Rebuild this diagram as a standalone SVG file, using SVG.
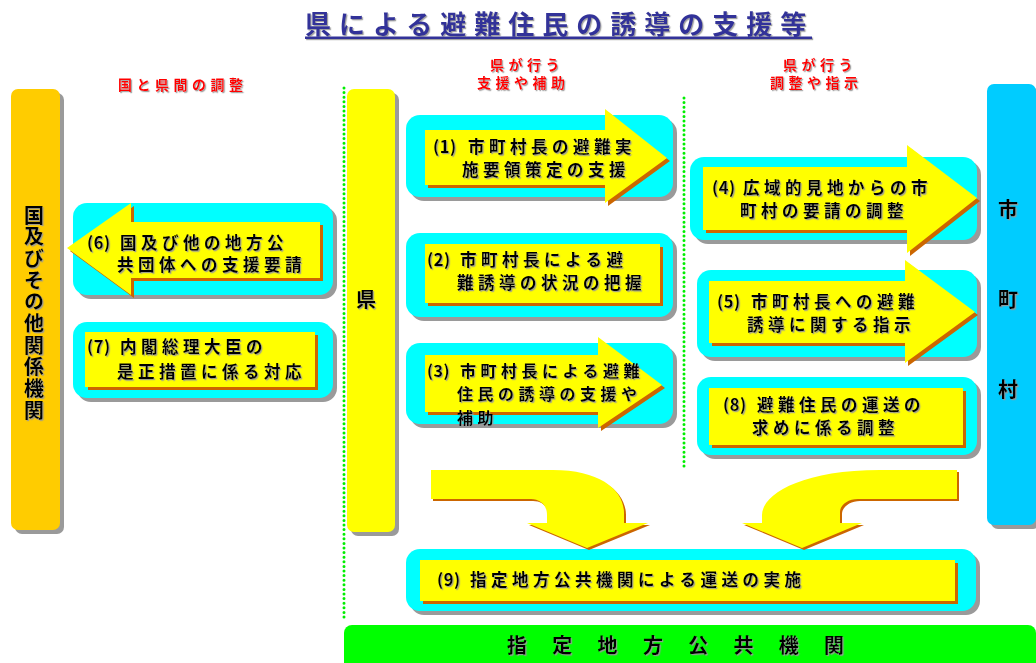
<svg xmlns="http://www.w3.org/2000/svg" width="1036" height="663" viewBox="0 0 1036 663">
<defs>
<filter id="ts" x="-5%" y="-20%" width="115%" height="150%"><feDropShadow dx="1.2" dy="1.2" stdDeviation="0.4" flood-color="#999999" flood-opacity="0.9"/></filter>
</defs>
<style>
.cy{fill:#00FFFF}
.sh{fill:#9a9a9a}
.yl{fill:#FFFF00}
.or{fill:#CC6600}
.t{font-family:"Noto Sans CJK JP","Noto Sans CJK SC",sans-serif;font-weight:700;font-size:16.5px;letter-spacing:4.5px;fill:#000000}
.n{letter-spacing:0.5px}
.red{fill:#FF0000;font-size:14px;letter-spacing:4.5px}
.big{font-size:20px;letter-spacing:0px;text-anchor:middle}
.title{fill:#333399;font-size:26px;letter-spacing:8px}
.dot{stroke:#00EE00;stroke-width:3;stroke-dasharray:0 4.6;stroke-linecap:round;fill:none}
</style>
<rect width="1036" height="663" fill="#FFFFFF"/>

<g id="title" filter="url(#ts)">
<text class="t title" x="305" y="34">県による避難住民の誘導の支援等</text>
<rect x="305" y="36.5" width="507" height="2.5" fill="#333399"/>
</g>

<g id="labels" filter="url(#ts)">
<text class="t red" x="118" y="90">国と県間の調整</text>
<text class="t red" x="490" y="70">県が行う</text>
<text class="t red" x="477" y="88">支援や補助</text>
<text class="t red" x="783" y="70">県が行う</text>
<text class="t red" x="770" y="88">調整や指示</text>
</g>

<g id="dividers">
<line class="dot" x1="344" y1="88" x2="344" y2="619"/>
<line class="dot" x1="684" y1="98" x2="684" y2="470"/>
</g>

<g id="kuni">
<rect class="sh" x="15" y="93" width="49" height="441" rx="7"/>
<rect x="11" y="89" width="49" height="441" rx="7" fill="#FFCC00"/>
<text class="t" x="34" y="205" style="writing-mode:vertical-rl;font-size:20px;letter-spacing:1.7px" filter="url(#ts)">国及びその他関係機関</text>
</g>

<g id="ken">
<rect class="sh" x="351" y="93" width="48" height="443" rx="7"/>
<rect class="yl" x="347" y="89" width="48" height="443" rx="7"/>
<text class="t big" x="366" y="307" filter="url(#ts)">県</text>
</g>

<g id="shichoson">
<rect class="sh" x="991" y="88" width="49" height="441" rx="7"/>
<rect x="987" y="84" width="49" height="441" rx="7" fill="#00CCFF"/>
<text class="t big" x="1008" filter="url(#ts)"><tspan x="1008" y="217">市</tspan><tspan x="1008" y="307">町</tspan><tspan x="1008" y="397">村</tspan></text>
</g>

<g id="box1">
<rect class="sh" x="410" y="119" width="267" height="82" rx="14"/>
<rect class="cy" x="406" y="115" width="267" height="82" rx="14"/>
<polygon class="or" points="428,133 608,133 608,112 670,161 608,206 608,188 428,188"/>
<polygon class="yl" points="425,130 605,130 605,109 667,158 605,203 605,185 425,185"/>
<text class="t" y="153" filter="url(#ts)"><tspan class="n" x="433">(1)</tspan><tspan x="468">市町村長の避難実</tspan></text>
<text class="t" x="462" y="176" filter="url(#ts)">施要領策定の支援</text>
</g>

<g id="box2">
<rect class="sh" x="410" y="237" width="267" height="84" rx="14"/>
<rect class="cy" x="406" y="233" width="267" height="84" rx="14"/>
<rect class="or" x="428" y="247" width="235" height="59"/>
<rect class="yl" x="425" y="244" width="235" height="59"/>
<text class="t" y="266" filter="url(#ts)"><tspan class="n" x="427">(2)</tspan><tspan x="460">市町村長による避</tspan></text>
<text class="t" x="457" y="289" filter="url(#ts)">難誘導の状況の把握</text>
</g>

<g id="box3">
<rect class="sh" x="410" y="347" width="267" height="81" rx="14"/>
<rect class="cy" x="406" y="343" width="267" height="81" rx="14"/>
<polygon class="or" points="428,358 601,358 601,340 665,388 601,431 601,415 428,415"/>
<polygon class="yl" points="425,355 598,355 598,337 662,385 598,428 598,412 425,412"/>
<text class="t" y="377" style="font-size:16px" filter="url(#ts)"><tspan class="n" x="427">(3)</tspan><tspan x="460">市町村長による避難</tspan></text>
<text class="t" x="457" y="400" style="font-size:16px" filter="url(#ts)">住民の誘導の支援や</text>
<text class="t" x="457" y="424" style="font-size:16px" filter="url(#ts)">補助</text>
</g>

<g id="box4">
<rect class="sh" x="694" y="161" width="287" height="83" rx="14"/>
<rect class="cy" x="690" y="157" width="287" height="83" rx="14"/>
<polygon class="or" points="706,170 910,170 910,148 980,201 910,256 910,233 706,233"/>
<polygon class="yl" points="703,167 907,167 907,145 977,198 907,253 907,230 703,230"/>
<text class="t" y="194" filter="url(#ts)"><tspan class="n" x="712">(4)</tspan><tspan x="743">広域的見地からの市</tspan></text>
<text class="t" x="740" y="217" filter="url(#ts)">町村の要請の調整</text>
</g>

<g id="box5">
<rect class="sh" x="701" y="274" width="280" height="87" rx="14"/>
<rect class="cy" x="697" y="270" width="280" height="87" rx="14"/>
<polygon class="or" points="712,284 908,284 908,263 978,315 908,366 908,346 712,346"/>
<polygon class="yl" points="709,281 905,281 905,260 975,312 905,363 905,343 709,343"/>
<text class="t" y="308" filter="url(#ts)"><tspan class="n" x="717">(5)</tspan><tspan x="751">市町村長への避難</tspan></text>
<text class="t" x="747" y="331" filter="url(#ts)">誘導に関する指示</text>
</g>

<g id="box8">
<rect class="sh" x="701" y="381" width="280" height="78" rx="14"/>
<rect class="cy" x="697" y="377" width="280" height="78" rx="14"/>
<rect class="or" x="712" y="391" width="254" height="57"/>
<rect class="yl" x="709" y="388" width="254" height="57"/>
<text class="t" y="411" filter="url(#ts)"><tspan class="n" x="723">(8)</tspan><tspan x="757">避難住民の運送の</tspan></text>
<text class="t" x="752" y="434" filter="url(#ts)">求めに係る調整</text>
</g>

<g id="box6">
<rect class="sh" x="77" y="207" width="260" height="92" rx="14"/>
<rect class="cy" x="73" y="203" width="260" height="92" rx="14"/>
<polygon class="or" points="70,251 134,206 134,225 323,225 323,281 134,281 134,298"/>
<polygon class="yl" points="67,248 131,203 131,222 320,222 320,278 131,278 131,295"/>
<text class="t" y="249" filter="url(#ts)"><tspan class="n" x="87">(6)</tspan><tspan x="120">国及び他の地方公</tspan></text>
<text class="t" x="117" y="271" filter="url(#ts)">共団体への支援要請</text>
</g>

<g id="box7">
<rect class="sh" x="77" y="326" width="260" height="76" rx="14"/>
<rect class="cy" x="73" y="322" width="260" height="76" rx="14"/>
<rect class="or" x="88" y="335" width="230" height="55"/>
<rect class="yl" x="85" y="332" width="230" height="55"/>
<text class="t" y="353" filter="url(#ts)"><tspan class="n" x="87">(7)</tspan><tspan x="120">内閣総理大臣の</tspan></text>
<text class="t" x="117" y="378" filter="url(#ts)">是正措置に係る対応</text>
</g>

<g id="box9">
<rect class="sh" x="410" y="553" width="570" height="62" rx="14"/>
<rect class="cy" x="406" y="549" width="570" height="62" rx="14"/>
<rect class="or" x="423" y="563" width="535" height="41"/>
<rect class="yl" x="420" y="560" width="535" height="41"/>
<text class="t" y="586" filter="url(#ts)"><tspan class="n" x="437">(9)</tspan><tspan x="470">指定地方公共機関による運送の実施</tspan></text>
</g>

<g id="shitei">
<rect x="344" y="625" width="692" height="50" rx="8" fill="#00FF00"/>
<text class="t" y="653" style="font-size:20px;letter-spacing:0px" x="507 529.65 552.3 574.95 597.6 620.25 642.9 665.55 688.2 710.85 733.5 756.15 778.8 801.45 824.1" filter="url(#ts)">指 定 地 方 公 共 機 関</text>
</g>

<g id="connectors">
<path class="or" d="M433,472 L555,472 C602,472 626,492 626,515 L626,525 L650,525 L589,550 L529,525 L549,525 L549,517 C549,507 542,501 533,501 L433,501 Z"/>
<path class="yl" d="M431,470 L553,470 C600,470 624,490 624,513 L624,523 L648,523 L587,548 L527,523 L547,523 L547,515 C547,505 540,499 531,499 L431,499 Z"/>
<path class="or" d="M959,472 L882,472 C802,472 764,497 764,517 L764,525 L744,525 L804,550 L864,525 L842,525 L842,514 C842,507 850,501 860,501 L959,501 Z"/>
<path class="yl" d="M957,470 L880,470 C800,470 762,495 762,515 L762,523 L742,523 L802,548 L862,523 L840,523 L840,512 C840,505 848,499 858,499 L957,499 Z"/>
</g>
</svg>
